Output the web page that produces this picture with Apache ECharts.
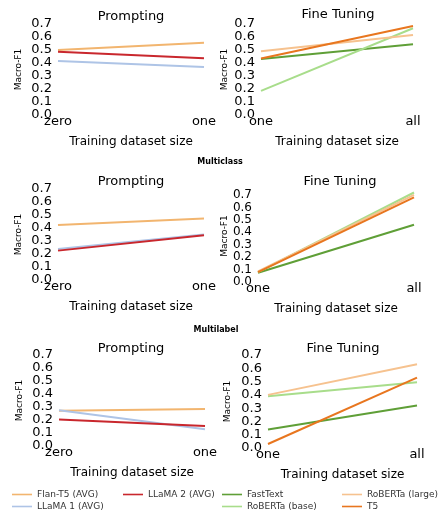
<!DOCTYPE html>
<html>
<head>
<meta charset="utf-8">
<script src="https://cdn.jsdelivr.net/npm/echarts@6/dist/echarts.min.js"></script>
<style>
html,body{margin:0;padding:0;background:#fff;}
#chart{width:443px;height:510px;}
</style>
</head>
<body>
<div id="chart"></div>
<script>
// Categories
const promptCats = ['zero', 'one'];
const fineCats = ['one', 'all'];
const yTicks = [0.0, 0.1, 0.2, 0.3, 0.4, 0.5, 0.6, 0.7];

// Row 1 (top)
const flanT5_r1 = [0.50, 0.555];
const llama1_r1 = [0.415, 0.37];
const llama2_r1 = [0.487, 0.437];
const fastText_r1 = [0.43, 0.545];
const robertaBase_r1 = [0.185, 0.667];
const robertaLarge_r1 = [0.49, 0.615];
const t5_r1 = [0.435, 0.685];

// Row 2 (Multiclass)
const flanT5_r2 = [0.423, 0.474];
const llama1_r2 = [0.238, 0.35];
const llama2_r2 = [0.226, 0.344];
const fastText_r2 = [0.075, 0.46];
const robertaBase_r2 = [0.08, 0.72];
const robertaLarge_r2 = [0.085, 0.70];
const t5_r2 = [0.08, 0.68];

// Row 3 (Multilabel)
const flanT5_r3 = [0.272, 0.285];
const llama1_r3 = [0.275, 0.128];
const llama2_r3 = [0.203, 0.154];
const fastText_r3 = [0.14, 0.32];
const robertaBase_r3 = [0.39, 0.495];
const robertaLarge_r3 = [0.40, 0.63];
const t5_r3 = [0.03, 0.53];

const FONT = 'DejaVu Sans';
const colors = {
  'Flan-T5 (AVG)': '#f2b56f',
  'LLaMA 1 (AVG)': '#aec4e6',
  'LLaMA 2 (AVG)': '#c9272d',
  'FastText': '#5f9f37',
  'RoBERTa (base)': '#a8dd8b',
  'RoBERTa (large)': '#f6c28f',
  'T5': '#e8761f'
};

const grids = [
  {left: 58, top: 24, width: 146, height: 91},
  {left: 261, top: 24, width: 152, height: 91},
  {left: 58, top: 189, width: 146, height: 91},
  {left: 258, top: 190, width: 156, height: 92},
  {left: 59, top: 355, width: 146, height: 91},
  {left: 268, top: 355, width: 149, height: 93}
];
const yMax = [0.7, 0.7, 0.7, 0.74, 0.7, 0.7];
const yFont = [13, 13, 13, 12, 13, 13];
const yNameGap = [35, 32, 35, 29, 35, 36];
const isPrompt = [true, false, true, false, true, false];

const xAxes = grids.map((g, i) => ({
  type: 'category', gridIndex: i, boundaryGap: false,
  data: isPrompt[i] ? promptCats : fineCats,
  axisLine: {show: false}, axisTick: {show: false}, splitLine: {show: false},
  axisLabel: {interval: 0, margin: 0, fontSize: 13, color: '#000', fontFamily: FONT,
    showMinLabel: true, showMaxLabel: true, hideOverlap: false},
  name: 'Training dataset size', nameLocation: 'middle', nameGap: 21,
  nameTextStyle: {fontSize: 12, color: '#000', fontFamily: FONT}
}));
const yAxes = grids.map((g, i) => ({
  type: 'value', gridIndex: i, min: 0, max: yMax[i], interval: 0.1,
  axisLine: {show: false}, axisTick: {show: false}, splitLine: {show: false},
  axisLabel: {margin: 6, fontSize: yFont[i], color: '#000', fontFamily: FONT,
    showMinLabel: true, hideOverlap: false,
    formatter: v => (v > 0.705 ? '' : v.toFixed(1))},
  name: 'Macro-F1', nameLocation: 'middle', nameRotate: 90, nameGap: yNameGap[i],
  nameTextStyle: {fontSize: 9, color: '#000', fontFamily: FONT}
}));

function line(name, data, idx) {
  return {
    type: 'line', name: name, data: data, xAxisIndex: idx, yAxisIndex: idx,
    symbol: 'none', smooth: false, animation: false,
    lineStyle: {width: 2, color: colors[name]}, itemStyle: {color: colors[name]}
  };
}

const series = [
  line('Flan-T5 (AVG)', flanT5_r1, 0),
  line('LLaMA 1 (AVG)', llama1_r1, 0),
  line('LLaMA 2 (AVG)', llama2_r1, 0),
  line('FastText', fastText_r1, 1),
  line('RoBERTa (base)', robertaBase_r1, 1),
  line('RoBERTa (large)', robertaLarge_r1, 1),
  line('T5', t5_r1, 1),
  line('Flan-T5 (AVG)', flanT5_r2, 2),
  line('LLaMA 1 (AVG)', llama1_r2, 2),
  line('LLaMA 2 (AVG)', llama2_r2, 2),
  line('FastText', fastText_r2, 3),
  line('RoBERTa (base)', robertaBase_r2, 3),
  line('RoBERTa (large)', robertaLarge_r2, 3),
  line('T5', t5_r2, 3),
  line('Flan-T5 (AVG)', flanT5_r3, 4),
  line('LLaMA 1 (AVG)', llama1_r3, 4),
  line('LLaMA 2 (AVG)', llama2_r3, 4),
  line('FastText', fastText_r3, 5),
  line('RoBERTa (base)', robertaBase_r3, 5),
  line('RoBERTa (large)', robertaLarge_r3, 5),
  line('T5', t5_r3, 5)
];

function txt(x, y, s, size, bold) {
  return {type: 'text', x: x, y: y, silent: true,
    style: {text: s, fontSize: size, fontFamily: FONT, fontWeight: bold ? 'bold' : 'normal',
      fill: '#000', align: 'center', verticalAlign: 'middle'}};
}

function leg(name, left, top) {
  return {
    left: left, top: top, data: [name], icon: 'rect',
    itemWidth: 20, itemHeight: 1.6, itemGap: 0, padding: 0, selectedMode: false,
    textStyle: {fontSize: 9, color: '#333', fontFamily: FONT}
  };
}

const option = {
  backgroundColor: '#fff',
  animation: false,
  grid: grids,
  xAxis: xAxes,
  yAxis: yAxes,
  series: series,
  legend: [
    leg('Flan-T5 (AVG)', 12, 490),
    leg('LLaMA 1 (AVG)', 12, 502),
    leg('LLaMA 2 (AVG)', 123, 490),
    leg('FastText', 222, 490),
    leg('RoBERTa (base)', 222, 502),
    leg('RoBERTa (large)', 342, 490),
    leg('T5', 342, 502)
  ],
  graphic: [
    txt(131, 17, 'Prompting', 13),
    txt(338, 15, 'Fine Tuning', 13),
    txt(131, 182, 'Prompting', 13),
    txt(340, 182, 'Fine Tuning', 13),
    txt(131, 349, 'Prompting', 13),
    txt(343, 349, 'Fine Tuning', 13),
    txt(220, 162, 'Multiclass', 8, true),
    txt(216, 330, 'Multilabel', 8, true)
  ]
};

const chart = echarts.init(document.getElementById('chart'), null, {renderer: 'canvas'});
chart.setOption(option);
</script>
</body>
</html>
